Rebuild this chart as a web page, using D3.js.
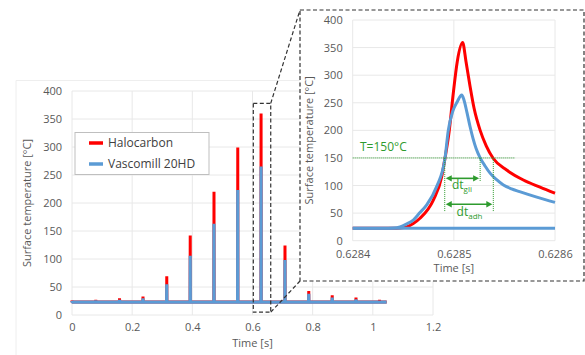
<!DOCTYPE html>
<html><head><meta charset="utf-8">
<script src="https://cdn.jsdelivr.net/npm/d3@7"></script>
<style>
html,body{margin:0;padding:0;background:#fff;}
svg{display:block;}
text{font-family:"Open Sans",sans-serif;}
</style></head>
<body><svg id="c" width="585" height="355"></svg>
<script>
// ---- main chart data ----
const spikeTimes = [0.0, 0.079, 0.158, 0.236, 0.315, 0.393, 0.472, 0.551, 0.6285, 0.708, 0.787, 0.865, 0.944, 1.022];
const redPeaks   = [26, 27, 30, 33, 69, 142, 220, 299, 360, 124, 43, 35, 31, 27];
const bluePeaks  = [25, 26, 27, 30, 55, 106, 163, 223, 265, 98, 38, 31, 28, 25];
const baseTemp = 23;
const timeEnd = 1.046;
const mainXTicks = [0, 0.2, 0.4, 0.6, 0.8, 1, 1.2];
const yTicks = [0, 50, 100, 150, 200, 250, 300, 350, 400];
const seriesNames = ["Halocarbon", "Vascomill 20HD"];
const zoomWindow = {t0: 0.6027, t1: 0.6606, v0: 5, v1: 378};

// ---- inset data ----
const insetXTicks = [0.6284, 0.6285, 0.6286];
const insetTimeBlue = [0.6284, 0.62843, 0.62844, 0.6284468, 0.628453, 0.6284599, 0.628466, 0.6284732, 0.628483, 0.6284912, 0.6284945, 0.628499, 0.6285034, 0.6285078, 0.62851, 0.628513, 0.628516, 0.628519, 0.628522, 0.628526, 0.628531, 0.628536, 0.628542, 0.628549, 0.628557, 0.628565, 0.628582, 0.6286];
const insetBlue     = [22.5, 22.5, 23, 25, 30, 37.5, 50, 65, 98, 149, 200, 235, 252, 264, 255, 232, 207, 185, 167, 150, 135, 122, 111, 101, 94, 89, 79, 69.5];
const insetTimeRed  = [0.6284, 0.62844, 0.628447, 0.6284534, 0.6284599, 0.6284665, 0.6284797, 0.628488, 0.6284912, 0.6284955, 0.628499, 0.6285034, 0.6285087, 0.628512, 0.628516, 0.62852, 0.628526, 0.628532, 0.628539, 0.6285522, 0.6285687, 0.6285852, 0.6286];
const insetRed      = [22.5, 22.5, 23, 25, 31, 40.6, 73.7, 116, 149, 200, 260, 325, 359, 325, 280, 240, 200, 172, 149, 128, 110, 97, 86];
const insetBaseTimes = [0.6284, 0.6286];
const insetBaseVals  = [22.5, 22.5];
const threshold = 150;
const thresholdEnd = 0.6285605;
const crossStart = 0.628491, crossGli = 0.628526, crossAdh = 0.628539;
const arrowGliY = 113, arrowAdhY = 66, gliLineBottom = 107, adhLineBottom = 52;

const RED = "#ff0000", BLUE = "#5b9bd5", GREEN = "#2e9b2e";
const GRID = "#e8e8e8", TICK = "#595959";

const svg = d3.select("#c");

// main chart frame (faint)
svg.append("path").attr("d","M16,355 L16,80.5 L300,80.5").attr("fill","none").attr("stroke","#eeeeee");

// ---- main chart ----
const x = d3.scaleLinear().domain([0, 1.2]).range([72, 433]);
const y = d3.scaleLinear().domain([0, 400]).range([315, 91]);

const gm = svg.append("g");
gm.selectAll(".hg").data(yTicks).join("line")
  .attr("x1", x(0)).attr("x2", x(1.2)).attr("y1", d=>y(d)).attr("y2", d=>y(d))
  .attr("stroke", GRID).attr("stroke-width",1);
gm.selectAll(".vg").data(mainXTicks).join("line")
  .attr("x1", d=>x(d)).attr("x2", d=>x(d)).attr("y1", y(0)).attr("y2", y(400))
  .attr("stroke", GRID).attr("stroke-width",1);

const xAxis = d3.axisBottom(x).tickValues(mainXTicks).tickSize(0).tickPadding(8).tickFormat(d3.format("~g"));
const yAxis = d3.axisLeft(y).tickValues(yTicks).tickSize(0).tickPadding(10);
const gx = gm.append("g").attr("transform",`translate(0,${y(0)})`).call(xAxis);
const gy = gm.append("g").attr("transform",`translate(${x(0)},0)`).call(yAxis);
[gx, gy].forEach(g=>{ g.select(".domain").remove(); g.selectAll("text").attr("fill",TICK).attr("font-size",11).attr("font-family","Open Sans"); });

gm.append("text").attr("x",(x(0)+x(1.2))/2).attr("y",347).attr("text-anchor","middle")
  .attr("font-size",11).attr("fill",TICK).text("Time [s]");
gm.append("text").attr("transform",`translate(31,${(y(0)+y(400))/2}) rotate(-90)`).attr("text-anchor","middle")
  .attr("font-size",11).attr("fill",TICK).text("Surface temperature [°C]");

function spikeSeries(peaks){
  const pts = [[0, baseTemp]];
  spikeTimes.forEach((t,i)=>{
    pts.push([Math.max(0,t-0.0004), baseTemp]);
    pts.push([t, peaks[i]]);
    pts.push([t+0.0004, baseTemp]);
  });
  pts.push([timeEnd, baseTemp]);
  return pts;
}
const lineMain = d3.line().x(d=>x(d[0])).y(d=>y(d[1]));
gm.append("path").attr("d", lineMain(spikeSeries(redPeaks))).attr("fill","none")
  .attr("stroke",RED).attr("stroke-width",3).attr("stroke-linejoin","bevel");
gm.append("path").attr("d", lineMain(spikeSeries(bluePeaks))).attr("fill","none")
  .attr("stroke",BLUE).attr("stroke-width",3.2).attr("stroke-linejoin","bevel");

// legend
const lg = gm.append("g");
lg.append("rect").attr("x",75).attr("y",132.5).attr("width",134).attr("height",42)
  .attr("fill","#fff").attr("stroke","#bfbfbf");
[RED, BLUE].forEach((c,i)=>{
  const yy = 143 + i*21;
  lg.append("line").attr("x1",89).attr("x2",103).attr("y1",yy).attr("y2",yy).attr("stroke",c).attr("stroke-width",3.5);
  lg.append("text").attr("x",108).attr("y",yy+4).attr("font-size",12).attr("fill","#404040")
    .attr("font-family","Lato").text(seriesNames[i]);
});

// zoom rectangle + connectors
const DASH = "4,2.5", DC = "#333";
gm.append("rect").attr("x",x(zoomWindow.t0)).attr("y",y(zoomWindow.v1))
  .attr("width",x(zoomWindow.t1)-x(zoomWindow.t0)).attr("height",y(zoomWindow.v0)-y(zoomWindow.v1))
  .attr("fill","none").attr("stroke",DC).attr("stroke-width",1.2).attr("stroke-dasharray",DASH);

// ---- inset ----
const box = {x0:300, y0:10, x1:584, y1:281};
svg.append("rect").attr("x",box.x0).attr("y",box.y0).attr("width",box.x1-box.x0).attr("height",box.y1-box.y0)
  .attr("fill","#fff").attr("stroke",DC).attr("stroke-width",1.2).attr("stroke-dasharray",DASH);
svg.append("line").attr("x1",x(zoomWindow.t1)).attr("y1",y(zoomWindow.v1)).attr("x2",box.x0).attr("y2",box.y0)
  .attr("stroke",DC).attr("stroke-width",1.2).attr("stroke-dasharray",DASH);
svg.append("line").attr("x1",x(zoomWindow.t1)).attr("y1",y(zoomWindow.v0)).attr("x2",box.x0).attr("y2",box.y1)
  .attr("stroke",DC).attr("stroke-width",1.2).attr("stroke-dasharray",DASH);

const xi = d3.scaleLinear().domain([0.6284, 0.6286]).range([352.7, 555]);
const yi = d3.scaleLinear().domain([0, 400]).range([240.7, 20]);
const gi = svg.append("g");
gi.selectAll(".hg").data(yTicks).join("line")
  .attr("x1", xi(0.6284)).attr("x2", xi(0.6286)).attr("y1", d=>yi(d)).attr("y2", d=>yi(d))
  .attr("stroke", GRID);
gi.selectAll(".vg").data(insetXTicks).join("line")
  .attr("x1", d=>xi(d)).attr("x2", d=>xi(d)).attr("y1", yi(0)).attr("y2", yi(400))
  .attr("stroke", GRID);
const gxi = gi.append("g").attr("transform",`translate(0,${yi(0)})`)
  .call(d3.axisBottom(xi).tickValues(insetXTicks).tickSize(0).tickPadding(10).tickFormat(d3.format(".4f")));
const gyi = gi.append("g").attr("transform",`translate(${xi(0.6284)},0)`)
  .call(d3.axisLeft(yi).tickValues(yTicks).tickSize(0).tickPadding(10));
[gxi, gyi].forEach(g=>{ g.select(".domain").remove(); g.selectAll("text").attr("fill",TICK).attr("font-size",11).attr("font-family","Open Sans"); });
gi.append("text").attr("x",(xi(0.6284)+xi(0.6286))/2).attr("y",272).attr("text-anchor","middle")
  .attr("font-size",11).attr("fill",TICK).text("Time [s]");
gi.append("text").attr("transform",`translate(313,${(yi(0)+yi(400))/2+10}) rotate(-90)`).attr("text-anchor","middle")
  .attr("font-size",11).attr("fill",TICK).text("Surface temperature [°C]");

const curve = d3.line().x(d=>xi(d[0])).y(d=>yi(d[1])).curve(d3.curveMonotoneX);
const zip = (a,b)=>a.map((t,i)=>[t,b[i]]);
gi.append("path").attr("d",curve(zip(insetTimeRed, insetRed))).attr("fill","none").attr("stroke",RED).attr("stroke-width",3);
gi.append("path").attr("d",curve(zip(insetBaseTimes, insetBaseVals))).attr("fill","none").attr("stroke",BLUE).attr("stroke-width",3);
gi.append("path").attr("d",curve(zip(insetTimeBlue, insetBlue))).attr("fill","none").attr("stroke",BLUE).attr("stroke-width",3);

// annotations
const ga = gi.append("g");
ga.append("line").attr("x1",xi(0.6284)).attr("x2",xi(thresholdEnd)).attr("y1",yi(threshold)).attr("y2",yi(threshold))
  .attr("stroke",GREEN).attr("stroke-width",1).attr("stroke-dasharray","1,1");
ga.append("text").attr("x",360).attr("y",151).attr("font-size",12).attr("fill",GREEN).text("T=150°C");
[[crossStart, adhLineBottom],[crossGli, gliLineBottom],[crossAdh, adhLineBottom]].forEach(([t,b])=>{
  ga.append("line").attr("x1",xi(t)).attr("x2",xi(t)).attr("y1",yi(threshold)).attr("y2",yi(b))
    .attr("stroke",GREEN).attr("stroke-width",1).attr("stroke-dasharray","1,1");
});
function arrow(t0,t1,v){
  const xa = xi(t0)+1, xb = xi(t1)-1, yy = yi(v);
  ga.append("line").attr("x1",xa+4).attr("x2",xb-4).attr("y1",yy).attr("y2",yy).attr("stroke",GREEN).attr("stroke-width",1.6);
  ga.append("path").attr("d",`M${xa},${yy} L${xa+6},${yy-3.2} L${xa+6},${yy+3.2} Z`).attr("fill",GREEN);
  ga.append("path").attr("d",`M${xb},${yy} L${xb-6},${yy-3.2} L${xb-6},${yy+3.2} Z`).attr("fill",GREEN);
}
arrow(crossStart, crossGli, arrowGliY);
arrow(crossStart, crossAdh, arrowAdhY);
function subLabel(cx, by, sub){
  const t = ga.append("text").attr("x",cx).attr("y",by).attr("text-anchor","middle").attr("font-size",12).attr("fill",GREEN);
  t.append("tspan").text("dt");
  t.append("tspan").attr("dy",3).attr("font-size",8).text(sub);
}
subLabel(462, 189, "gli");
subLabel(469.5, 215.5, "adh");
</script></body></html>
